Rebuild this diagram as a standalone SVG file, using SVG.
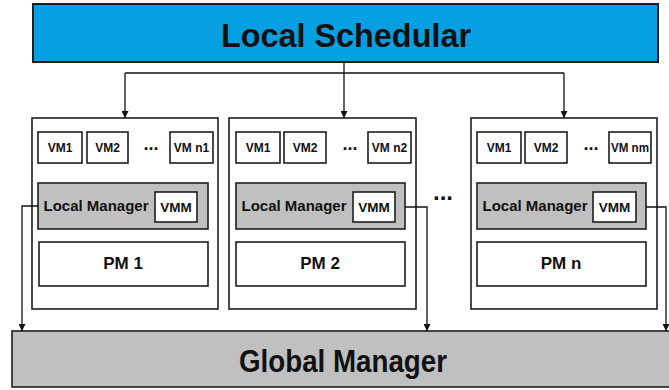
<svg xmlns="http://www.w3.org/2000/svg" width="669" height="390" viewBox="0 0 669 390">
<defs>
<style>
.bx{fill:#fff;stroke:#1e1e1e;stroke-width:1.6}
.lm{fill:#c0c0c0;stroke:#1e1e1e;stroke-width:1.6}
.t{font-family:"Liberation Sans",Arial,sans-serif;font-weight:bold;fill:#111;text-anchor:middle}
.vm{font-size:12px}
.lmt{font-size:15px}
.pm{font-size:17px}
.ln{fill:none;stroke:#111;stroke-width:1.3}
</style>
<marker id="ah" viewBox="0 0 10 10" refX="10" refY="5" markerWidth="7" markerHeight="7" markerUnits="userSpaceOnUse" orient="auto"><path d="M0,0 L10,5 L0,10 z" fill="#111"/></marker>
</defs>
<rect width="669" height="390" fill="#fff"/>
<g id="local-schedular">
<rect x="33" y="4" width="625" height="58" fill="#06a0e2" stroke="#1e1e1e" stroke-width="2"/>
<text class="t" x="346" y="47" font-size="33" textLength="250" lengthAdjust="spacingAndGlyphs">Local Schedular</text>
</g>
<g id="global-manager">
<rect x="12" y="331" width="670" height="56" class="lm" stroke-width="2"/>
<text class="t" x="343" y="372" font-size="31" textLength="208" lengthAdjust="spacingAndGlyphs">Global Manager</text>
</g>
<g id="pm1">
<rect class="bx" x="32" y="118" width="186" height="191"/>
<rect class="bx" x="38" y="132" width="44" height="31"/><text class="t vm" x="60" y="152">VM1</text>
<rect class="bx" x="87" y="132" width="41" height="31"/><text class="t vm" x="107.5" y="152">VM2</text>
<text class="t" x="151" y="150" font-size="18">...</text>
<rect class="bx" x="170" y="132" width="43" height="31"/><text class="t vm" x="191.5" y="152">VM n1</text>
<rect class="lm" x="38" y="183" width="170" height="46"/>
<text class="t lmt" x="96" y="211">Local Manager</text>
<rect class="bx" x="155" y="192" width="42" height="30"/><text class="t" x="176" y="212" font-size="13.5">VMM</text>
<rect class="bx" x="39" y="242" width="169" height="44"/><text class="t pm" x="123" y="269">PM 1</text>
</g>
<g id="pm2">
<rect class="bx" x="229" y="118" width="187" height="191"/>
<rect class="bx" x="236" y="132" width="44" height="31"/><text class="t vm" x="258" y="152">VM1</text>
<rect class="bx" x="284" y="132" width="42" height="31"/><text class="t vm" x="305" y="152">VM2</text>
<text class="t" x="350" y="150" font-size="18">...</text>
<rect class="bx" x="368" y="132" width="43" height="31"/><text class="t vm" x="389.5" y="152">VM n2</text>
<rect class="lm" x="236" y="183" width="169" height="46"/>
<text class="t lmt" x="294" y="211">Local Manager</text>
<rect class="bx" x="353" y="192" width="42" height="30"/><text class="t" x="374" y="212" font-size="13.5">VMM</text>
<rect class="bx" x="236" y="242" width="169" height="44"/><text class="t pm" x="320" y="269">PM 2</text>
</g>
<g id="gap-dots">
<text class="t" x="443" y="200" font-size="24">...</text>
</g>
<g id="pmn">
<rect class="bx" x="471" y="118" width="186" height="191"/>
<rect class="bx" x="477" y="132" width="44" height="31"/><text class="t vm" x="499" y="152">VM1</text>
<rect class="bx" x="525" y="132" width="42" height="31"/><text class="t vm" x="546" y="152">VM2</text>
<text class="t" x="591" y="150" font-size="18">...</text>
<rect class="bx" x="609" y="132" width="42" height="31"/><text class="t vm" x="630" y="152" textLength="38" lengthAdjust="spacingAndGlyphs">VM nm</text>
<rect class="lm" x="477" y="183" width="169" height="46"/>
<text class="t lmt" x="535" y="211">Local Manager</text>
<rect class="bx" x="593" y="192" width="43" height="30"/><text class="t" x="614.5" y="212" font-size="13.5">VMM</text>
<rect class="bx" x="477" y="242" width="169" height="44"/><text class="t pm" x="561" y="269">PM n</text>
</g>
<g id="connectors">
<path class="ln" d="M344,62 V73"/>
<path class="ln" d="M125,73 H564"/>
<path class="ln" d="M125,73 V118" marker-end="url(#ah)"/>
<path class="ln" d="M344,73 V118" marker-end="url(#ah)"/>
<path class="ln" d="M564,73 V118" marker-end="url(#ah)"/>
<path class="ln" d="M38,206 H22 V331" marker-end="url(#ah)"/>
<path class="ln" d="M405,207 H427 V331" marker-end="url(#ah)"/>
<path class="ln" d="M646,207 H666 V331" marker-end="url(#ah)"/>
</g>
</svg>
